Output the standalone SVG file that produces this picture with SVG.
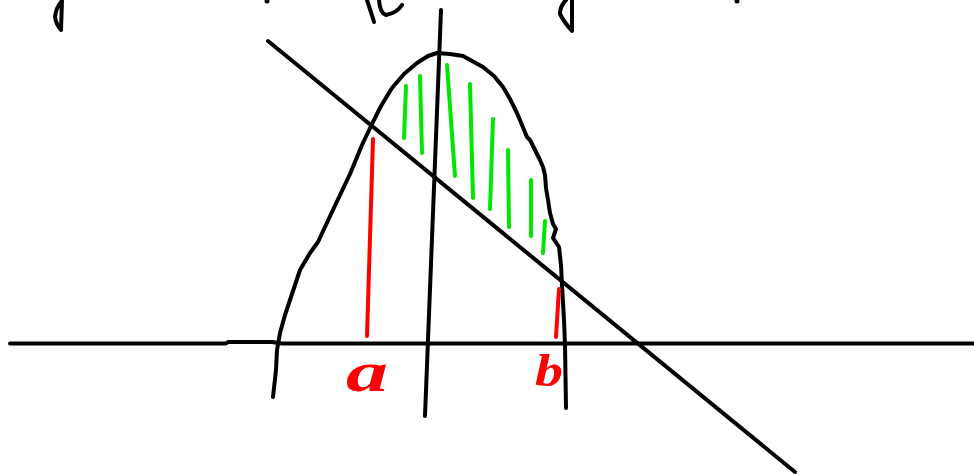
<svg xmlns="http://www.w3.org/2000/svg" width="974" height="474" viewBox="0 0 974 474">
<style>
.k{fill:none;stroke:#000;stroke-width:4;stroke-linecap:round;stroke-linejoin:round}
.g{fill:none;stroke:#00e600;stroke-width:4;stroke-linecap:round}
.r{fill:none;stroke:#ff0000;stroke-width:4;stroke-linecap:round}
.lbl{font-family:"Liberation Serif","DejaVu Serif",serif;font-style:italic;font-weight:bold;fill:#ff0000}
</style>
<rect width="974" height="474" fill="#fff"/>
<g id="fragments">
<path class="k" d="M62 0 L61 30 Q56 24 55 17 Q56 8 61 2"/>
<circle cx="267" cy="1" r="2.5" fill="#000"/>
<path class="k" d="M367 0 Q371 12 374 22 M379 0 Q380 13 386 15 Q397 13 402 5"/>
<path class="k" d="M572 0 L572 31 Q564 22 560 14 Q560 6 566 0"/>
<circle cx="737" cy="1" r="2.5" fill="#000"/>
</g>
<g id="axes">
<path class="k" d="M10 343.5 L226 343.5 L228 342 L272 342 L282 343.5 L974 343.5"/>
<path class="k" d="M441 10 L425 416"/>
</g>
<g id="secant">
<path class="k" d="M268 41 L795 472"/>
</g>
<g id="curve">
<path class="k" d="M273 397 L276 370 L277 350 L280 333 L285 315 L290 300 L300 270 L310 253 L318 242 L332 212 L350 174 L362 145 L371 126 L381 106 L392 88 L404 74 L417 63 L428 56 L437 53 L450 54 L463 56 L483 67 L494 76 L503 87 L510 99 L517 113 L527 137 L530 140 L533 146 L540 160 L543 167 L545 175 L546 188 L548 200 L550 213 L553 224 L556 229 L553 238 L559 247 L561 265 L562 285 L564 320 L565 345 L566 408"/>
</g>
<g id="shading">
<path class="g" d="M406 86 L404 138"/>
<path class="g" d="M420 76 L422 153"/>
<path class="g" d="M447 65 L455 176"/>
<path class="g" d="M470 84 L473 198"/>
<path class="g" d="M493 119 L490 209"/>
<path class="g" d="M508 150 L509 227"/>
<path class="g" d="M531 180 L531 236"/>
<path class="g" d="M545 221 L543 253"/>
</g>
<g id="bounds">
<path class="r" d="M373 139 L367 336"/>
<path class="r" d="M559 289 L556 337"/>
</g>
<g id="label-a">
<text class="lbl" x="346" y="391" font-size="58" textLength="42" lengthAdjust="spacingAndGlyphs">a</text>
</g>
<g id="label-b">
<text class="lbl" x="535" y="386" font-size="46" textLength="28" lengthAdjust="spacingAndGlyphs">b</text>
</g>
</svg>
